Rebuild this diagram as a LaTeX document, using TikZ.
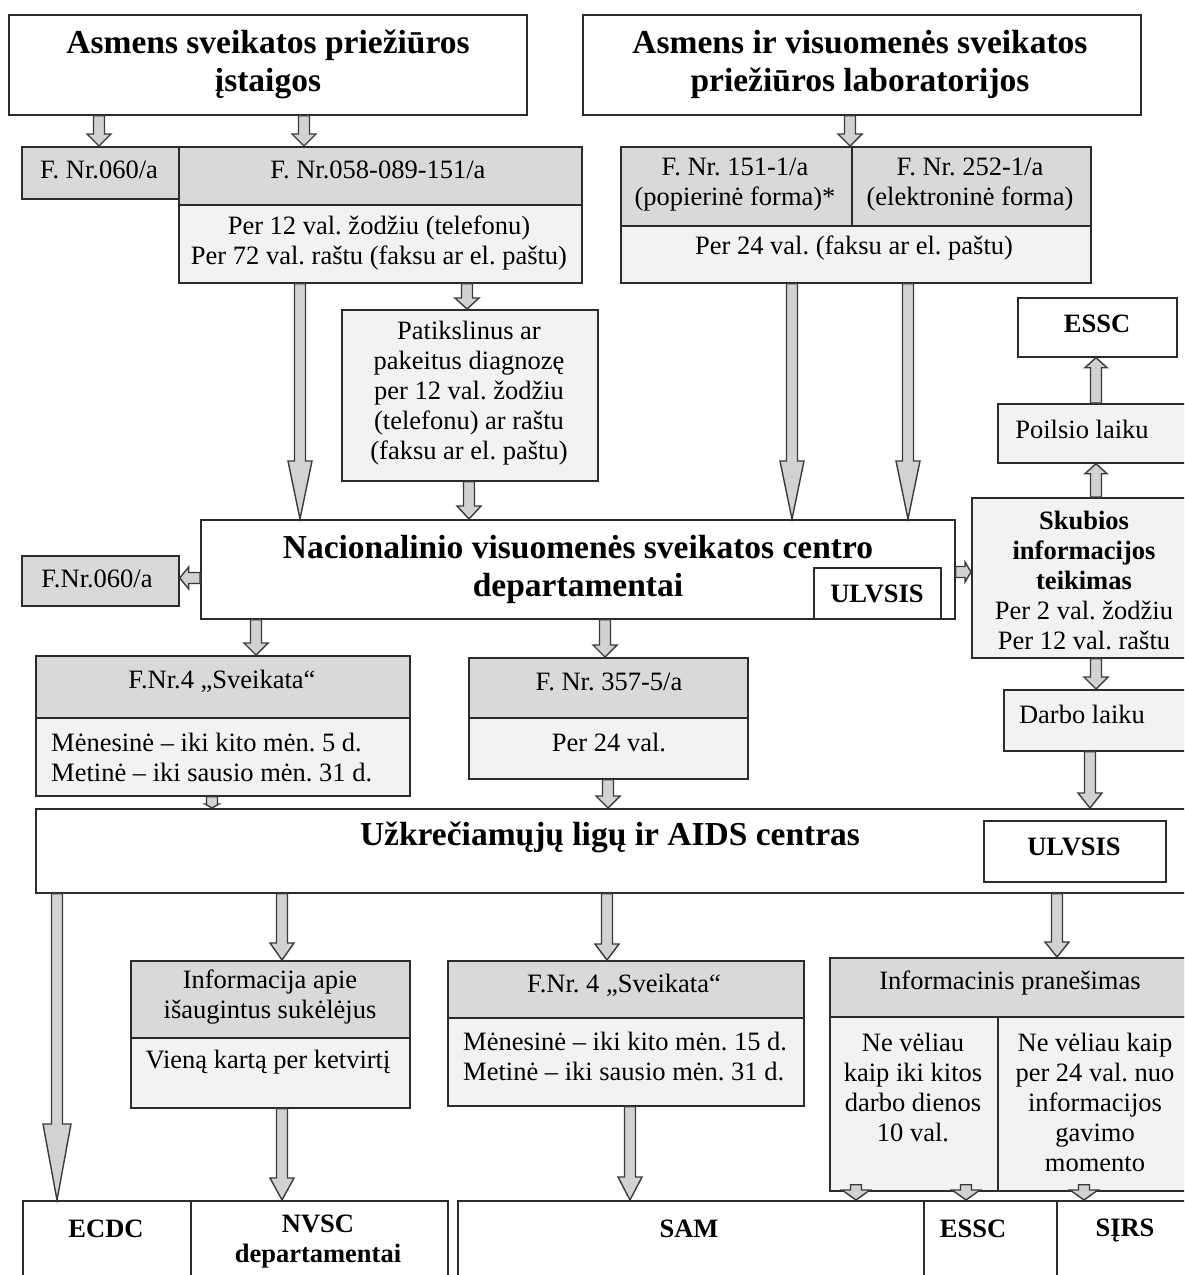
\documentclass[tikz,border=0pt]{standalone}
\usepackage{fontspec}
\setmainfont{Liberation Serif}
\usetikzlibrary{calc}
\frenchspacing
\definecolor{hd}{HTML}{D9D9D9}
\definecolor{lt}{HTML}{F2F2F2}
\definecolor{bd}{HTML}{2B2B2B}
\definecolor{af}{HTML}{D2D2D2}
\definecolor{ad}{HTML}{3A3A3A}
\newcommand{\fRg}{\frenchspacing\fontsize{26.5}{30}\selectfont}
\newcommand{\fBt}{\frenchspacing\bfseries\fontsize{33.5}{38}\selectfont}
\newcommand{\fBs}{\frenchspacing\bfseries\fontsize{26.5}{30}\selectfont}
% box: style, x1, y1, x2, y2, name
\newcommand{\bx}[6]{\node[#1, minimum width={#4-#2}, minimum height={#5-#3}, anchor=north west] (#6) at (#2,#3) {};}
% block arrow: from, to, head length, head half width
\newcommand{\barr}[4]{%
  \coordinate (ba-s) at (#1);
  \coordinate (ba-e) at (#2);
  \coordinate (ba-h) at ($(ba-e)!#3!(ba-s)$);
  \draw[blockarr] ($(ba-s)!5.5pt!90:(ba-e)$) -- ($(ba-h)!5.5pt!-90:(ba-s)$) -- ($(ba-h)!#4!-90:(ba-s)$) -- (ba-e)
    -- ($(ba-h)!#4!90:(ba-s)$) -- ($(ba-h)!5.5pt!90:(ba-s)$) -- ($(ba-s)!5.5pt!-90:(ba-e)$) -- cycle;}
\tikzset{
  box/.style={draw=bd, line width=1.7pt, inner sep=0pt, rectangle},
  wbox/.style={box, fill=white},
  gbox/.style={box, fill=hd},
  lbox/.style={box, fill=lt},
  tx/.style={font=\fRg, align=center, inner sep=0pt, text=black},
  blockarr/.style={fill=af, draw=ad, line width=1.4pt, line join=miter},
}
\begin{document}
\begin{tikzpicture}[x=1pt, y=-1pt]
\useasboundingbox (0,0) rectangle (1184,1275);
\clip (0,0) rectangle (1184,1275);
\fill[white] (0,0) rectangle (1184,1275);
% boxes
\bx{wbox}{8}{14}{526}{114}{top1}
\bx{wbox}{582}{14}{1140}{114}{top2}
\bx{gbox}{21}{146}{178}{198}{f060}
\bx{gbox}{178}{146}{581}{204}{f058h}
\bx{lbox}{178}{204}{581}{282}{f058l}
\bx{gbox}{620}{146}{851}{225}{f151}
\bx{gbox}{851}{146}{1090}{225}{f252}
\bx{lbox}{620}{225}{1090}{282}{flabl}
\bx{lbox}{341}{309}{597}{480}{patik}
\bx{wbox}{1017}{297}{1176}{356}{essc1}
\bx{lbox}{997}{403}{1200}{462}{poil}
\bx{lbox}{971}{497}{1200}{657}{skub}
\bx{wbox}{200}{519}{954}{618}{nvsc}
\bx{wbox}{813}{567}{940}{618}{ulv1}
\bx{gbox}{21}{555}{178}{605}{f060b}
\bx{gbox}{35}{655}{409}{717}{f4h}
\bx{lbox}{35}{717}{409}{795}{f4l}
\bx{gbox}{468}{657}{747}{717}{f357h}
\bx{lbox}{468}{717}{747}{778}{f357l}
\bx{lbox}{1003}{689}{1200}{750}{darbo}
\bx{wbox}{35}{808}{1200}{892}{uac}
\bx{wbox}{983}{820}{1165}{881}{ulv2}
\bx{gbox}{130}{960}{409}{1037}{infh}
\bx{lbox}{130}{1037}{409}{1107}{infl}
\bx{gbox}{447}{960}{803}{1017}{f4bh}
\bx{lbox}{447}{1017}{803}{1105}{f4bl}
\bx{gbox}{829}{957}{1200}{1016}{iph}
\bx{lbox}{829}{1016}{997}{1190}{ipl}
\bx{lbox}{997}{1016}{1200}{1190}{ipr}
\bx{wbox}{22}{1200}{190}{1300}{ecdc}
\bx{wbox}{190}{1200}{447}{1300}{nvscd}
\bx{wbox}{457}{1200}{923}{1300}{sam}
\bx{wbox}{923}{1200}{1056}{1300}{essc2}
\bx{wbox}{1056}{1200}{1200}{1300}{sirs}
% texts
\node[tx, font=\fBt] (t-top1) at (268,64) {Asmens sveikatos priežiūros\\įstaigos};
\node[tx, font=\fBt] (t-top2) at (860,64) {Asmens ir visuomenės sveikatos\\priežiūros laboratorijos};
\node[tx] (t-f060) at (99,170) {F. Nr.060/a};
\node[tx] (t-f058h) at (378,170) {F. Nr.058-089-151/a};
\node[tx] (t-f058l) at (379,243) {Per 12 val. žodžiu (telefonu)\\Per 72 val. raštu (faksu ar el. paštu)};
\node[tx] (t-f151) at (735,185) {F. Nr. 151-1/a\\(popierinė forma)*};
\node[tx] (t-f252) at (970,185) {F. Nr. 252-1/a\\(elektroninė forma)};
\node[tx] (t-flabl) at (854,248) {Per 24 val. (faksu ar el. paštu)};
\node[tx] (t-patik) at (469,393) {Patikslinus ar\\pakeitus diagnozę\\per 12 val. žodžiu\\(telefonu) ar raštu\\(faksu ar el. paštu)};
\node[tx, font=\fBs] (t-essc1) at (1097,324) {ESSC};
\node[tx] (t-poil) at (1082,429) {Poilsio laiku};
\node[tx] (t-skub) at (1084,580) {\textbf{Skubios}\\\textbf{informacijos}\\\textbf{teikimas}\\Per 2 val. žodžiu\\Per 12 val. raštu};
\node[tx, font=\fBt] (t-nvsc) at (578,569) {Nacionalinio visuomenės sveikatos centro\\departamentai};
\node[tx, font=\fBs] (t-ulv1) at (877,594) {ULVSIS};
\node[tx] (t-f060b) at (97,579) {F.Nr.060/a};
\node[tx] (t-f4h) at (222,681) {F.Nr.4 „Sveikata“};
\node[tx, align=left, anchor=west] (t-f4l) at (51,757) {Mėnesinė – iki kito mėn. 5 d.\\Metinė – iki sausio mėn. 31 d.};
\node[tx] (t-f357h) at (609,682) {F. Nr. 357-5/a};
\node[tx] (t-f357l) at (609,742) {Per 24 val.};
\node[tx] (t-darbo) at (1082,714) {Darbo laiku};
\node[tx, font=\fBt] (t-uac) at (610,837) {Užkrečiamųjų ligų ir AIDS centras};
\node[tx, font=\fBs] (t-ulv2) at (1074,847) {ULVSIS};
\node[tx] (t-infh) at (270,997) {Informacija apie\\išaugintus sukėlėjus};
\node[tx] (t-infl) at (268,1062) {Vieną kartą per ketvirtį};
\node[tx] (t-f4bh) at (624,985) {F.Nr. 4 „Sveikata“};
\node[tx, align=left, anchor=west] (t-f4bl) at (463,1056) {Mėnesinė – iki kito mėn. 15 d.\\Metinė – iki sausio mėn. 31 d.};
\node[tx] (t-iph) at (1010,983) {Informacinis pranešimas};
\node[tx] (t-ipl) at (913,1087) {Ne vėliau\\kaip iki kitos\\darbo dienos\\10 val.};
\node[tx] (t-ipr) at (1095,1102) {Ne vėliau kaip\\per 24 val. nuo\\informacijos\\gavimo\\momento};
\node[tx, font=\fBs] (t-ecdc) at (106,1229) {ECDC};
\node[tx, font=\fBs] (t-nvscd) at (318,1242) {NVSC\\departamentai};
\node[tx, font=\fBs] (t-sam) at (689,1229) {SAM};
\node[tx, font=\fBs] (t-essc2) at (973,1229) {ESSC};
\node[tx, font=\fBs] (t-sirs) at (1125,1230.5) {SĮRS};
% connectors
\barr{top1.south -| 99,0}{f060.north -| 99,0}{12pt}{12pt}
\barr{top1.south -| 304,0}{f058h.north -| 304,0}{12pt}{12pt}
\barr{top2.south -| 850,0}{f151.north -| 850,0}{12pt}{12pt}
\barr{f058l.south -| 300,0}{nvsc.north -| 300,0}{58pt}{12pt}
\barr{f058l.south -| 467,0}{patik.north -| 467,0}{11pt}{12pt}
\barr{patik.south -| 469,0}{nvsc.north -| 469,0}{13pt}{12pt}
\barr{flabl.south -| 792,0}{nvsc.north -| 792,0}{58pt}{12pt}
\barr{flabl.south -| 908,0}{nvsc.north -| 908,0}{58pt}{12pt}
\barr{nvsc.west |- 0,578}{f060b.east |- 0,578}{9pt}{11pt}
\barr{nvsc.east |- 0,572}{skub.west |- 0,572}{6pt}{10pt}
\barr{skub.north -| 1096,0}{poil.south -| 1096,0}{10pt}{11pt}
\barr{poil.north -| 1096,0}{essc1.south -| 1096,0}{10pt}{11pt}
\barr{skub.south -| 1096,0}{darbo.north -| 1096,0}{12pt}{12pt}
\barr{darbo.south -| 1090,0}{uac.north -| 1090,0}{15pt}{12pt}
\barr{nvsc.south -| 256,0}{f4h.north -| 256,0}{12pt}{12pt}
\barr{nvsc.south -| 605,0}{f357h.north -| 605,0}{12pt}{12pt}
\barr{f4l.south -| 212,0}{uac.north -| 212,0}{4pt}{7pt}
\barr{f357l.south -| 608,0}{uac.north -| 608,0}{12pt}{12pt}
\barr{uac.south -| 57,0}{ecdc.north -| 57,0}{76pt}{14pt}
\barr{uac.south -| 282,0}{infh.north -| 282,0}{17pt}{12pt}
\barr{uac.south -| 607,0}{f4bh.north -| 607,0}{16pt}{12pt}
\barr{uac.south -| 1057,0}{iph.north -| 1057,0}{15pt}{12pt}
\barr{infl.south -| 282,0}{nvscd.north -| 282,0}{22pt}{12pt}
\barr{f4bl.south -| 630,0}{sam.north -| 630,0}{23pt}{12pt}
\barr{$(ipl.south -| 856,0)+(0,-7)$}{sam.north -| 856,0}{10pt}{14pt}
\barr{$(ipl.south -| 966,0)+(0,-7)$}{essc2.north -| 966,0}{10pt}{14pt}
\barr{$(ipr.south -| 1084,0)+(0,-7)$}{sirs.north -| 1084,0}{10pt}{14pt}
\end{tikzpicture}
\end{document}
